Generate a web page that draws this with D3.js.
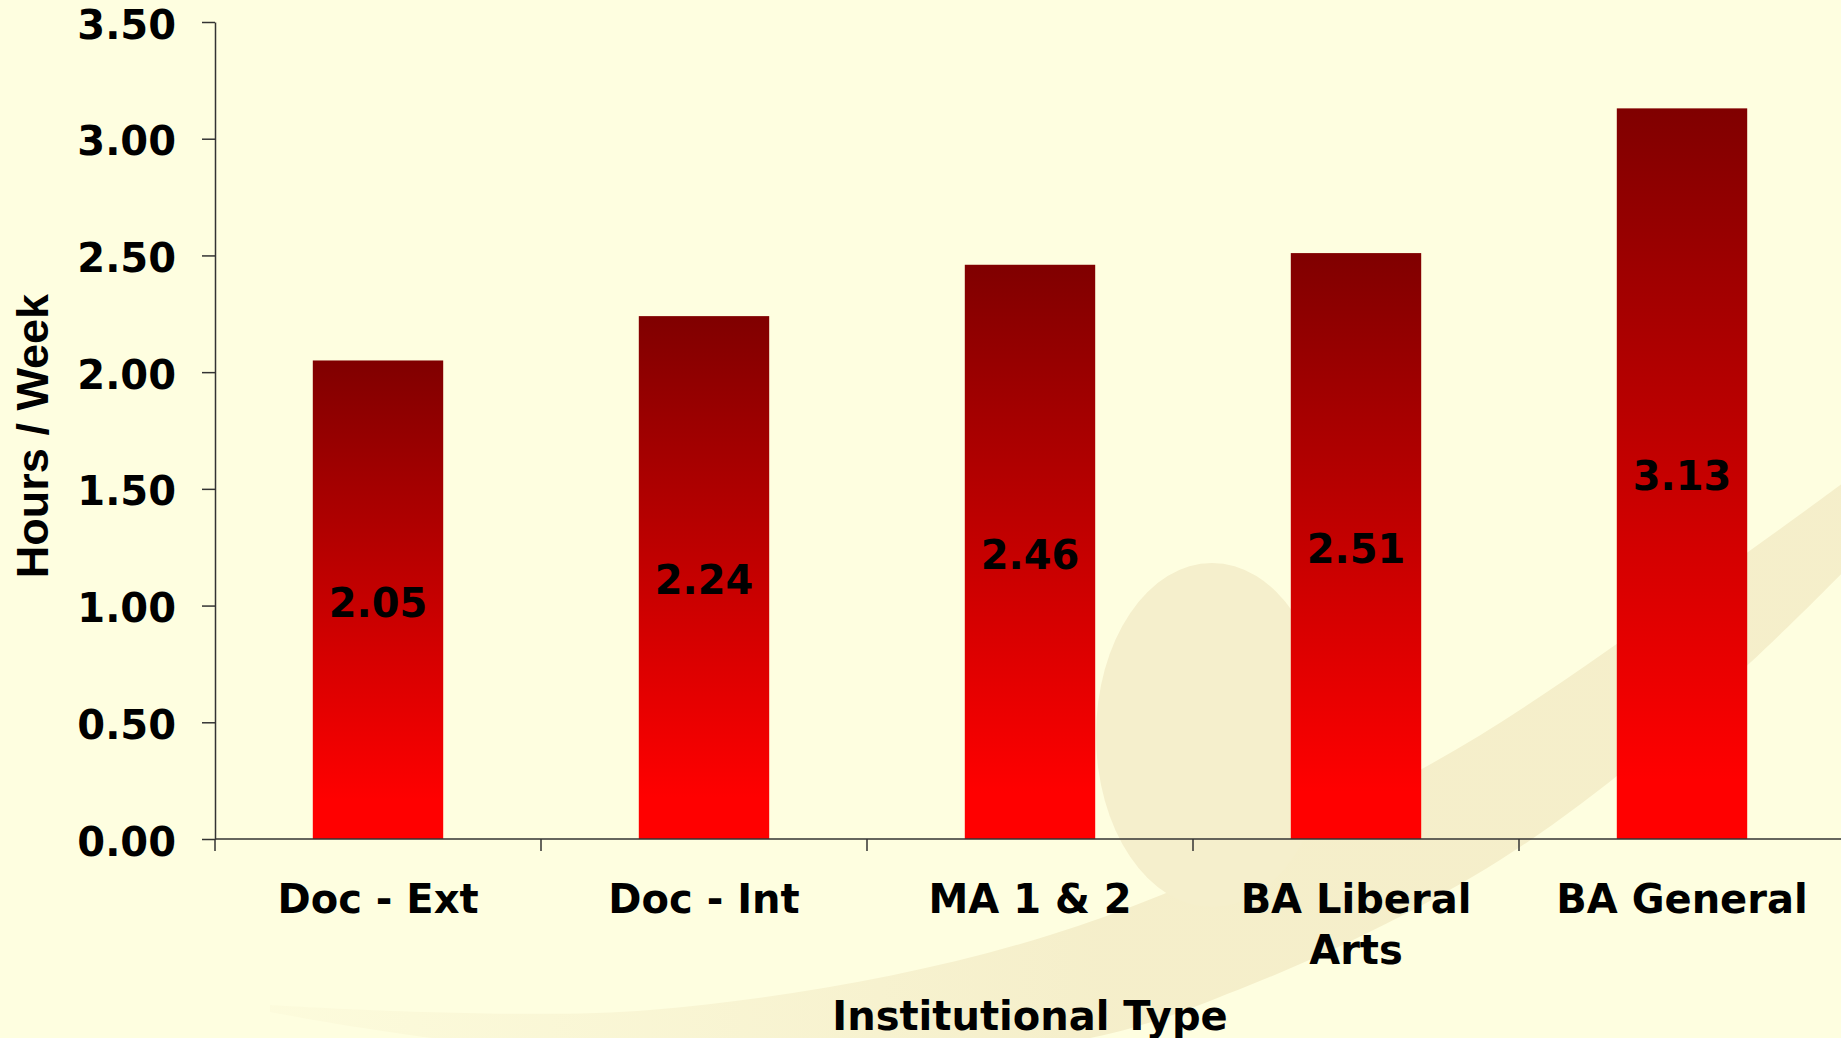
<!DOCTYPE html>
<html>
<head>
<meta charset="utf-8">
<script src="https://cdn.jsdelivr.net/npm/d3@7"></script>
<style>
  html, body { margin: 0; padding: 0; background: #FEFEE0; overflow: hidden; }
  svg { display: block; }
  text { font-family: "DejaVu Sans", Verdana, sans-serif; font-weight: bold; fill: #000; }
</style>
</head>
<body>
<div id="chart"></div>
<script>
// data
var categories = ["Doc - Ext", "Doc - Int", "MA 1 & 2", "BA Liberal Arts", "BA General"];
var hours = [2.05, 2.24, 2.46, 2.51, 3.13];
var yTicks = [0, 0.5, 1.0, 1.5, 2.0, 2.5, 3.0, 3.5];
var xTitle = "Institutional Type";
var yTitle = "Hours / Week";

var width = 1841,
    height = 1038,
    plotLeft = 215,
    plotRight = 1845,
    plotTop = 22,
    plotBottom = 839;

var svg = d3.select("#chart").append("svg")
    .attr("width", width)
    .attr("height", height);

var defs = svg.append("defs");
var grad = defs.append("linearGradient")
    .attr("id", "barGrad")
    .attr("x1", 0).attr("y1", 0).attr("x2", 0).attr("y2", 1);
grad.append("stop").attr("offset", "0%").attr("stop-color", "#800000");
grad.append("stop").attr("offset", "92%").attr("stop-color", "#FF0000");
grad.append("stop").attr("offset", "100%").attr("stop-color", "#FF0000");

var swooshGrad = defs.append("linearGradient")
    .attr("id", "swooshGrad")
    .attr("gradientUnits", "userSpaceOnUse")
    .attr("x1", 250).attr("y1", 0).attr("x2", 1100).attr("y2", 0);
swooshGrad.append("stop").attr("offset", "0%").attr("stop-color", "#F4EDC8").attr("stop-opacity", 0.15);
swooshGrad.append("stop").attr("offset", "100%").attr("stop-color", "#F4EDC8").attr("stop-opacity", 0.9);

// faint background swoosh
var bg = svg.append("g");
var upperEdge = [[270, 1005], [650, 1010], [1050, 935], [1420, 770], [1680, 600], [1850, 478]];
var lowerEdge = [[1850, 565], [1720, 690], [1500, 860], [1250, 985], [1050, 1045], [500, 1045], [270, 1012]];
bg.append("path")
    .attr("fill", "url(#swooshGrad)")
    .attr("d", d3.line().curve(d3.curveCatmullRom)(upperEdge) + "L" +
               d3.line().curve(d3.curveCatmullRom)(lowerEdge).slice(1) + "Z");
bg.append("ellipse")
    .attr("fill", "#F5EFCC")
    .attr("cx", 1212).attr("cy", 735)
    .attr("rx", 116).attr("ry", 172);

var x = d3.scaleBand()
    .domain(categories)
    .range([plotLeft, plotRight])
    .paddingInner(0.6)
    .paddingOuter(0.3);

var y = d3.scaleLinear()
    .domain([0, 3.5])
    .range([plotBottom, plotTop]);

// bars
svg.append("g").selectAll("rect")
    .data(hours)
    .enter()
    .append("rect")
    .attr("x", function(d, i) { return x(categories[i]); })
    .attr("y", function(d) { return y(d); })
    .attr("width", x.bandwidth())
    .attr("height", function(d) { return y(0) - y(d); })
    .attr("fill", "url(#barGrad)");

// value labels, centred in the bars
svg.append("g").selectAll("text")
    .data(hours)
    .enter()
    .append("text")
    .attr("x", function(d, i) { return x(categories[i]) + x.bandwidth() / 2; })
    .attr("y", function(d) { return (y(d) + y(0)) / 2; })
    .attr("dy", "0.42em")
    .attr("text-anchor", "middle")
    .style("font-size", "40px")
    .text(function(d) { return d.toFixed(2); });

// y axis
var yAxis = svg.append("g")
    .attr("transform", "translate(" + plotLeft + ",0)")
    .call(d3.axisLeft(y)
      .tickValues(yTicks)
      .tickFormat(d3.format(".2f"))
      .tickSize(13)
      .tickSizeOuter(0)
      .tickPadding(26));
yAxis.selectAll("text").style("font-size", "40px").attr("fill", "#000").attr("dy", "0.4em");
yAxis.selectAll("line, path").attr("stroke", "#333").attr("stroke-width", 1.5);

// x axis
var xAxis = svg.append("g")
    .attr("transform", "translate(0," + plotBottom + ")")
    .call(d3.axisBottom(x).tickSize(0).tickSizeOuter(0).tickPadding(46));
xAxis.select(".domain").remove();
xAxis.selectAll("text")
    .style("font-size", "40px")
    .attr("fill", "#000")
    .call(wrap, 300);

svg.append("line")
    .attr("x1", plotLeft).attr("x2", width)
    .attr("y1", plotBottom).attr("y2", plotBottom)
    .attr("stroke", "#333").attr("stroke-width", 1.5);

var gap = (x.step() - x.bandwidth()) / 2;
var bounds = categories.map(function(c) { return x(c) - gap; });
bounds.push(plotRight);
svg.append("g").selectAll("line")
    .data(bounds)
    .enter()
    .append("line")
    .attr("x1", function(d) { return d; })
    .attr("x2", function(d) { return d; })
    .attr("y1", plotBottom)
    .attr("y2", plotBottom + 12)
    .attr("stroke", "#333")
    .attr("stroke-width", 1.5);

// titles
svg.append("text")
    .attr("x", (plotLeft + plotRight) / 2)
    .attr("y", 1030)
    .attr("text-anchor", "middle")
    .style("font-size", "40px")
    .text(xTitle);

svg.append("text")
    .attr("transform", "translate(48," + 436 + ") rotate(-90)")
    .attr("text-anchor", "middle")
    .style("font-family", "'Liberation Sans', Arial, sans-serif")
    .style("font-size", "45px")
    .text(yTitle);

function wrap(sel, w) {
  sel.each(function() {
    var text = d3.select(this),
        words = text.text().split(/\s+/),
        yy = text.attr("y"),
        dy = parseFloat(text.attr("dy")),
        line = [],
        lineNo = 0,
        tspan = text.text(null).append("tspan").attr("x", 0).attr("y", yy).attr("dy", dy + "em");
    words.forEach(function(word) {
      line.push(word);
      tspan.text(line.join(" "));
      if (tspan.node().getComputedTextLength() > w && line.length > 1) {
        line.pop();
        tspan.text(line.join(" "));
        line = [word];
        tspan = text.append("tspan").attr("x", 0).attr("y", yy)
          .attr("dy", (++lineNo * 1.27 + dy) + "em").text(word);
      }
    });
  });
}
</script>
</body>
</html>
